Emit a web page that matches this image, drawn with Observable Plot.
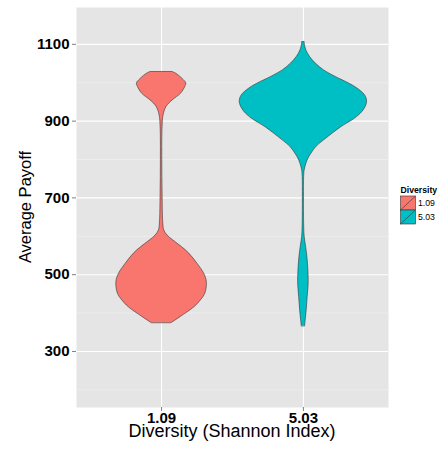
<!DOCTYPE html>
<html>
<head>
<meta charset="utf-8">
<script src="https://cdn.jsdelivr.net/npm/d3@7"></script>
<script src="https://cdn.jsdelivr.net/npm/@observablehq/plot@0.6"></script>
<style>
  html, body { margin: 0; padding: 0; background: white; }
  #wrap { position: relative; width: 439px; height: 449px; font-family: "Liberation Sans", Arial, sans-serif; }
  #wrap svg { position: absolute; left: 0; top: 0; }
  .ytitle { position: absolute; left: 25px; top: 207px; transform: translate(-50%, -50%) rotate(-90deg); font-size: 16.5px; white-space: nowrap; color: #000; }
  .xtitle { position: absolute; left: 232px; top: 424px; transform: translateX(-50%); font-size: 18px; white-space: nowrap; color: #000; line-height: 0.8; }
  #legend { position: absolute; left: 398px; top: 183px; }
</style>
</head>
<body>
<div id="wrap">
  <div id="chart"></div>
  <div class="ytitle">Average Payoff</div>
  <div class="xtitle">Diversity (Shannon Index)</div>
  <div id="legend"></div>
</div>
<script>
// Categories and colours
const categories = ["1.09", "5.03"];
const colors = ["#F8766D", "#00BFC4"];
const legendTitle = "Diversity";

// Axis ticks
const yTicks = [300, 500, 700, 900, 1100];
const yMinor = [200, 400, 600, 800, 1000];

// Violin 1 (Diversity 1.09): payoff values and half widths (in category units)
const v1Payoff = [374, 390, 415, 433, 450, 481, 502, 528, 555, 572, 589, 602, 615, 633, 711, 798, 885, 915, 937, 954, 971, 989, 998, 1010, 1024, 1028];
const v1HalfWidth = [0.071, 0.136, 0.231, 0.277, 0.308, 0.319, 0.301, 0.254, 0.195, 0.143, 0.083, 0.042, 0.019, 0.012, 0.007, 0.005, 0.007, 0.014, 0.035, 0.078, 0.136, 0.167, 0.174, 0.148, 0.101, 0.078];

// Violin 2 (Diversity 5.03)
const v2Payoff = [366, 381, 407, 442, 476, 511, 546, 572, 598, 633, 702, 754, 772, 789, 802, 815, 833, 850, 867, 885, 902, 919, 937, 952, 967, 985, 998, 1015, 1032, 1050, 1067, 1084, 1102, 1106];
const v2HalfWidth = [0.012, 0.016, 0.023, 0.030, 0.037, 0.035, 0.028, 0.019, 0.009, 0.005, 0.004, 0.005, 0.009, 0.021, 0.035, 0.056, 0.092, 0.146, 0.205, 0.270, 0.346, 0.404, 0.439, 0.449, 0.435, 0.381, 0.322, 0.228, 0.146, 0.087, 0.047, 0.021, 0.009, 0.009];

const rows = [];
[[v1Payoff, v1HalfWidth], [v2Payoff, v2HalfWidth]].forEach(([ys, ws], i) => {
  ys.forEach((y, j) => rows.push({pos: i + 1, label: categories[i], y, w: ws[j]}));
});

const chart = Plot.plot({
  width: 439,
  height: 449,
  marginLeft: 76,
  marginRight: 51,
  marginTop: 7,
  marginBottom: 42,
  style: {fontFamily: "'Liberation Sans', Arial, sans-serif", background: "transparent", color: "#000"},
  x: {domain: [0.4, 2.6]},
  y: {domain: [154, 1196]},
  color: {domain: categories, range: colors},
  marks: [
    Plot.frame({fill: "#E5E5E5", stroke: null}),
    Plot.gridY(yMinor, {stroke: "#F2F2F2", strokeOpacity: 1, strokeWidth: 0.6}),
    Plot.gridY(yTicks, {stroke: "#FFFFFF", strokeOpacity: 1, strokeWidth: 1.1}),
    Plot.gridX([1, 2], {stroke: "#FFFFFF", strokeOpacity: 1, strokeWidth: 1.1}),
    Plot.areaX(rows, {
      y: "y",
      x1: d => d.pos - d.w,
      x2: d => d.pos + d.w,
      z: "label",
      fill: "label",
      stroke: "#333333",
      strokeWidth: 0.6,
      curve: "catmull-rom"
    }),
    Plot.axisY(yTicks, {tickSize: 4, tickPadding: 3, fontSize: 15, fontWeight: "bold", stroke: "#7F7F7F", fill: "#000", tickFormat: d => String(d), label: null}),
    Plot.axisX([1, 2], {tickSize: 4, tickPadding: 1, fontSize: 15, fontWeight: "bold", stroke: "#7F7F7F", fill: "#000", tickFormat: d => categories[d - 1], label: null})
  ]
});
document.getElementById("chart").appendChild(chart);

// Legend
const lg = d3.select("#legend").append("svg").attr("width", 41).attr("height", 45)
  .style("font-family", "'Liberation Sans', Arial, sans-serif");
lg.append("text").attr("x", 2.5).attr("y", 9.5).attr("font-size", 8.7).attr("font-weight", "bold").text(legendTitle);
categories.forEach((c, i) => {
  const g = lg.append("g").attr("transform", `translate(2.5,${13 + i * 14})`);
  g.append("rect").attr("width", 15).attr("height", 14).attr("fill", colors[i]).attr("stroke", "#333").attr("stroke-width", 0.6);
  g.append("line").attr("x1", 0).attr("y1", 14).attr("x2", 15).attr("y2", 0).attr("stroke", "#333").attr("stroke-width", 0.6);
  g.append("text").attr("x", 17.5).attr("y", 10).attr("font-size", 8.7).text(c);
});
</script>
</body>
</html>
